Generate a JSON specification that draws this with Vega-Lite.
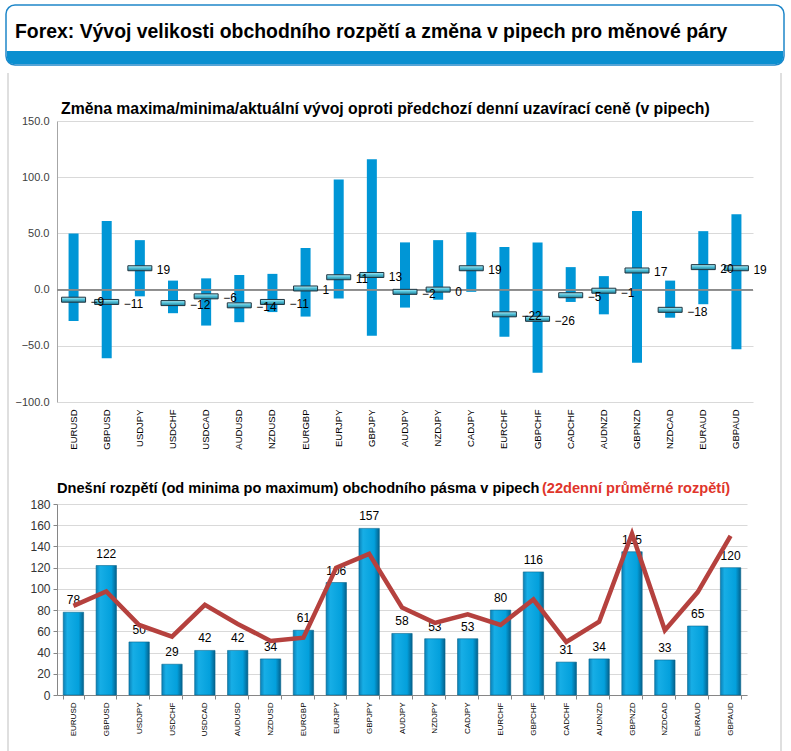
{
  "$schema": "https://vega.github.io/schema/vega-lite/v6.json",
  "background": "white",
  "padding": {"left": 5, "top": 4, "right": 8, "bottom": 0},
  "config": {"font": "Liberation Sans", "view": {"stroke": null}, "axis": {"labelOverlap": false}},
  "datasets": {
    "fx": [
      {"pair": "EURUSD", "low": -28, "high": 50, "cur": -9, "range": 78, "avg": 84},
      {"pair": "GBPUSD", "low": -61, "high": 61, "cur": -11, "range": 122, "avg": 97.5},
      {"pair": "USDJPY", "low": -6, "high": 44, "cur": 19, "range": 50, "avg": 66},
      {"pair": "USDCHF", "low": -21, "high": 8, "cur": -12, "range": 29, "avg": 55},
      {"pair": "USDCAD", "low": -32, "high": 10, "cur": -6, "range": 42, "avg": 85},
      {"pair": "AUDUSD", "low": -29, "high": 13, "cur": -14, "range": 42, "avg": 67},
      {"pair": "NZDUSD", "low": -20, "high": 14, "cur": -11, "range": 34, "avg": 51},
      {"pair": "EURGBP", "low": -24, "high": 37, "cur": 1, "range": 61, "avg": 54},
      {"pair": "EURJPY", "low": -8, "high": 98, "cur": 11, "range": 106, "avg": 120},
      {"pair": "GBPJPY", "low": -41, "high": 116, "cur": 13, "range": 157, "avg": 133},
      {"pair": "AUDJPY", "low": -16, "high": 42, "cur": -2, "range": 58, "avg": 82.5},
      {"pair": "NZDJPY", "low": -9, "high": 44, "cur": 0, "range": 53, "avg": 68},
      {"pair": "CADJPY", "low": -2, "high": 51, "cur": 19, "range": 53, "avg": 76},
      {"pair": "EURCHF", "low": -42, "high": 38, "cur": -22, "range": 80, "avg": 66},
      {"pair": "GBPCHF", "low": -74, "high": 42, "cur": -26, "range": 116, "avg": 90},
      {"pair": "CADCHF", "low": -11, "high": 20, "cur": -5, "range": 31, "avg": 50},
      {"pair": "AUDNZD", "low": -22, "high": 12, "cur": -1, "range": 34, "avg": 69},
      {"pair": "GBPNZD", "low": -65, "high": 70, "cur": 17, "range": 135, "avg": 152},
      {"pair": "NZDCAD", "low": -25, "high": 8, "cur": -18, "range": 33, "avg": 61},
      {"pair": "EURAUD", "low": -13, "high": 52, "cur": 20, "range": 65, "avg": 97},
      {"pair": "GBPAUD", "low": -53, "high": 67, "cur": 19, "range": 120, "avg": 150}
    ]
  },
  "bounds": "flush",
  "spacing": 102,
  "vconcat": [
    {
      "width": 696,
      "height": 281,
      "data": {"name": "fx"},
      "layer": [
        {
          "data": {"values": [{}]},
          "mark": {"type": "rect", "fill": "white", "stroke": "#1f87c9", "strokeWidth": 1.5, "cornerRadius": 9},
          "encoding": {"x": {"value": -51}, "x2": {"value": 727}, "y": {"value": -116}, "y2": {"value": -56}}
        },
        {
          "data": {"values": [{}]},
          "mark": {"type": "rect", "fill": "#0a8fd0", "cornerRadiusBottomLeft": 8, "cornerRadiusBottomRight": 8},
          "encoding": {"x": {"value": -50}, "x2": {"value": 726}, "y": {"value": -70}, "y2": {"value": -57}}
        },
        {
          "data": {"values": [{"t": "Forex: Vývoj velikosti obchodního rozpětí a změna v pipech pro měnové páry"}]},
          "mark": {"type": "text", "align": "left", "baseline": "middle", "fontSize": 19.4, "fontWeight": "bold", "color": "#000000"},
          "encoding": {"text": {"field": "t"}, "x": {"value": -42}, "y": {"value": -89}}
        },
        {
          "data": {"values": [{"t": "Změna maxima/minima/aktuální vývoj oproti předchozí denní uzavírací ceně (v pipech)"}]},
          "mark": {"type": "text", "align": "left", "baseline": "middle", "fontSize": 15.8, "fontWeight": "bold", "color": "#000000"},
          "encoding": {"text": {"field": "t"}, "x": {"value": 4}, "y": {"value": -12}}
        },
        {
          "mark": {"type": "bar", "size": 10, "color": "#0096d6"},
          "encoding": {
            "x": {
              "field": "pair", "type": "nominal", "sort": null,
              "scale": {"paddingInner": 0, "paddingOuter": 0},
              "axis": {"title": null, "labelAngle": -90, "labelFontSize": 9.5, "labelColor": "#000000", "ticks": false, "domain": false, "labelPadding": 7, "grid": false, "labelAlign": "right", "labelBaseline": "middle"}
            },
            "y": {
              "field": "low", "type": "quantitative", "title": null,
              "scale": {"domain": [-100, 150], "nice": false},
              "axis": {"values": [-100, -50, 0, 50, 100, 150], "format": ".1f", "labelFontSize": 11, "labelColor": "#404040", "ticks": false, "domainColor": "#a6a6a6", "gridColor": "#d9d9d9", "labelPadding": 8}
            },
            "y2": {"field": "high"}
          }
        },
        {
          "mark": {"type": "rule", "color": "#8c8c8c", "strokeWidth": 1},
          "encoding": {"y": {"datum": 0, "type": "quantitative", "title": null, "axis": {"values": [-100, -50, 0, 50, 100, 150], "format": ".1f", "labelFontSize": 11, "labelColor": "#404040", "ticks": false, "domainColor": "#a6a6a6", "gridColor": "#d9d9d9", "labelPadding": 8}}}
        },
        {
          "mark": {
            "type": "tick", "size": 24, "thickness": 5, "stroke": "#1f3540", "strokeWidth": 1, "opacity": 1,
            "fill": {
              "gradient": "linear", "x1": 0, "y1": 0, "x2": 0, "y2": 1,
              "stops": [
                {"offset": 0, "color": "#b8eef8"},
                {"offset": 0.45, "color": "#52c2da"},
                {"offset": 1, "color": "#237f98"}
              ]
            }
          },
          "encoding": {
            "x": {"field": "pair", "type": "nominal", "sort": null},
            "y": {"field": "cur", "type": "quantitative", "title": null, "axis": {"values": [-100, -50, 0, 50, 100, 150], "format": ".1f", "labelFontSize": 11, "labelColor": "#404040", "ticks": false, "domainColor": "#a6a6a6", "gridColor": "#d9d9d9", "labelPadding": 8}}
          }
        },
        {
          "mark": {"type": "text", "align": "left", "baseline": "middle", "dx": 17, "dy": 2, "fontSize": 12, "color": "#000000"},
          "encoding": {
            "x": {"field": "pair", "type": "nominal", "sort": null},
            "y": {"field": "cur", "type": "quantitative", "title": null, "axis": {"values": [-100, -50, 0, 50, 100, 150], "format": ".1f", "labelFontSize": 11, "labelColor": "#404040", "ticks": false, "domainColor": "#a6a6a6", "gridColor": "#d9d9d9", "labelPadding": 8}},
            "text": {"field": "cur", "type": "quantitative"}
          }
        }
      ]
    },
    {
      "width": 690,
      "height": 191,
      "data": {"name": "fx"},
      "layer": [
        {
          "data": {"values": [{}]},
          "mark": {"type": "rule", "color": "#d4d4d4", "strokeWidth": 1.5},
          "encoding": {"x": {"value": -49}, "y": {"value": -431}, "y2": {"value": 248}}
        },
        {
          "data": {"values": [{}]},
          "mark": {"type": "rule", "color": "#d4d4d4", "strokeWidth": 1.5},
          "encoding": {"x": {"value": 724}, "y": {"value": -431}, "y2": {"value": 248}}
        },
        {
          "mark": {
            "type": "bar",
            "stroke": "#06668f",
            "strokeWidth": 0.6,
            "color": {
              "gradient": "linear", "x1": 0, "y1": 0, "x2": 1, "y2": 0,
              "stops": [
                {"offset": 0, "color": "#0a80b6"},
                {"offset": 0.2, "color": "#17aee6"},
                {"offset": 0.75, "color": "#03a0dc"},
                {"offset": 1, "color": "#05618c"}
              ]
            }
          },
          "encoding": {
            "x": {
              "field": "pair", "type": "nominal", "sort": null,
              "scale": {"paddingInner": 0.38, "paddingOuter": 0.19},
              "axis": {"title": null, "labelAngle": -90, "labelFontSize": 8, "labelColor": "#000000", "ticks": true, "tickBand": "extent", "tickColor": "#868686", "tickSize": 4, "domainColor": "#868686", "labelPadding": 3, "grid": false, "labelAlign": "right", "labelBaseline": "middle"}
            },
            "y": {
              "field": "range", "type": "quantitative", "title": null,
              "scale": {"domain": [0, 180], "nice": false},
              "axis": {"values": [0, 20, 40, 60, 80, 100, 120, 140, 160, 180], "labelFontSize": 12, "labelColor": "#333333", "ticks": true, "tickColor": "#868686", "tickSize": 4, "domainColor": "#868686", "gridColor": "#d9d9d9", "labelPadding": 3}
            }
          }
        },
        {
          "mark": {"type": "text", "baseline": "bottom", "dy": -5, "fontSize": 12, "color": "#000000"},
          "encoding": {
            "x": {"field": "pair", "type": "nominal", "sort": null},
            "y": {"field": "range", "type": "quantitative", "title": null, "axis": {"values": [0, 20, 40, 60, 80, 100, 120, 140, 160, 180], "labelFontSize": 12, "labelColor": "#333333", "ticks": true, "tickColor": "#868686", "tickSize": 4, "domainColor": "#868686", "gridColor": "#d9d9d9", "labelPadding": 3}},
            "text": {"field": "range", "type": "quantitative"}
          }
        },
        {
          "mark": {"type": "line", "color": "#b5413e", "strokeWidth": 4.5},
          "encoding": {
            "x": {"field": "pair", "type": "nominal", "sort": null},
            "y": {"field": "avg", "type": "quantitative", "title": null, "axis": {"values": [0, 20, 40, 60, 80, 100, 120, 140, 160, 180], "labelFontSize": 12, "labelColor": "#333333", "ticks": true, "tickColor": "#868686", "tickSize": 4, "domainColor": "#868686", "gridColor": "#d9d9d9", "labelPadding": 3}}
          }
        },
        {
          "data": {"values": [{"t": "Dnešní rozpětí (od minima po maximum) obchodního pásma v pipech"}]},
          "mark": {"type": "text", "align": "left", "baseline": "middle", "fontSize": 14.6, "fontWeight": "bold", "color": "#000000"},
          "encoding": {"text": {"field": "t"}, "x": {"value": 0}, "y": {"value": -15}}
        },
        {
          "data": {"values": [{"t": "(22denní průměrné rozpětí)"}]},
          "mark": {"type": "text", "align": "left", "baseline": "middle", "fontSize": 14.6, "fontWeight": "bold", "color": "#e0352b"},
          "encoding": {"text": {"field": "t"}, "x": {"value": 485}, "y": {"value": -15}}
        }
      ]
    }
  ]
}
